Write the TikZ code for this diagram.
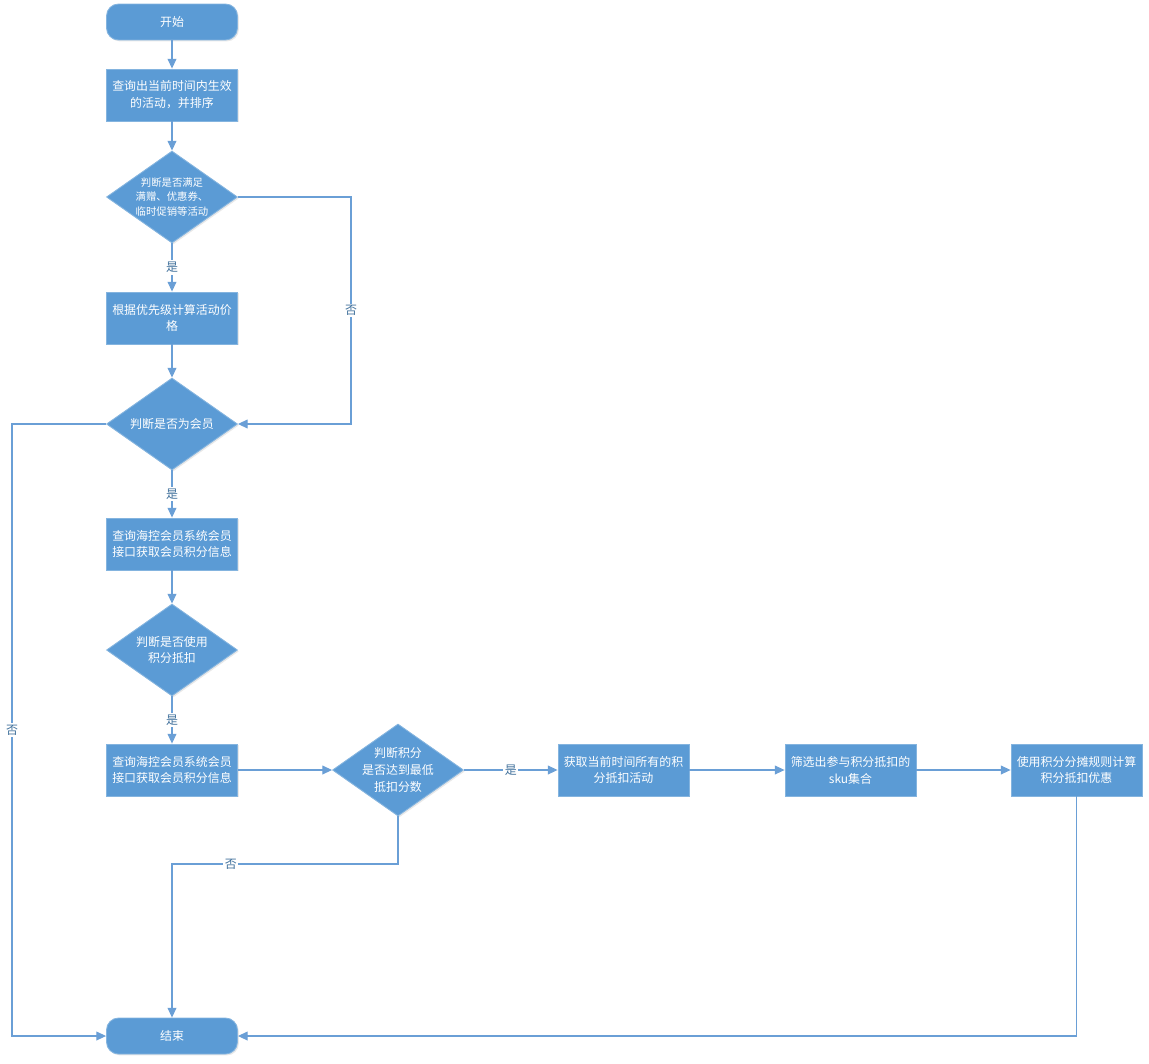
\documentclass[tikz,border=0pt]{standalone}
\usepackage{fontspec}
\setmainfont{Noto Sans CJK SC}
\usetikzlibrary{shapes.geometric,arrows.meta,shadows}
\definecolor{flowblue}{HTML}{5B9BD5}
\definecolor{edgeblue}{HTML}{6A9FD6}
\definecolor{labblue}{HTML}{41719C}
\begin{document}
\begin{tikzpicture}[x=0.02cm,y=-0.02cm,
	txt/.style={text=white,align=center,font=\fontsize{6.8pt}{9.6pt}\selectfont},
	base/.style={txt,fill=flowblue,draw=flowblue!75!white,line width=0.5pt,inner sep=0pt,
		drop shadow={opacity=0.18,shadow xshift=0.8pt,shadow yshift=-0.8pt}},
	term/.style={base,rectangle,rounded corners=0.24cm,minimum width=2.62cm,minimum height=0.72cm},
	proc/.style={base,rectangle,minimum width=2.62cm,minimum height=1.04cm},
	dia/.style={base,diamond,minimum width=2.62cm,minimum height=1.84cm},
	arr/.style={draw=edgeblue,line width=0.6pt,-{Triangle[width=5pt,length=5.5pt]}},
	lab/.style={fill=white,text=labblue,inner sep=1pt,font=\fontsize{6.8pt}{8pt}\selectfont}]
	\useasboundingbox (0,0) rectangle (1149,1064);
	\node[term] (start) at (172,22) {开始};
	\node[proc] (b1) at (172,95) {查询出当前时间内生效\\的活动，并排序};
	\node[dia] (d1) at (172,197) {};
	\node[txt,font=\fontsize{5.9pt}{8.2pt}\selectfont] at (d1) {判断是否满足\\满赠、优惠券、\\临时促销等活动};
	\node[proc] (b2) at (172,318) {根据优先级计算活动价\\格};
	\node[dia] (d2) at (172,424) {};
	\node[txt] at (d2) {判断是否为会员};
	\node[proc] (b3) at (172,544) {查询海控会员系统会员\\接口获取会员积分信息};
	\node[dia] (d3) at (172,650) {};
	\node[txt] at (d3) {判断是否使用\\积分抵扣};
	\node[proc] (b4) at (172,770) {查询海控会员系统会员\\接口获取会员积分信息};
	\node[dia] (d4) at (398,770) {};
	\node[txt] at (d4) {判断积分\\是否达到最低\\抵扣分数};
	\node[proc] (b5) at (623.5,770) {获取当前时间所有的积\\分抵扣活动};
	\node[proc] (b6) at (850.5,770) {筛选出参与积分抵扣的\\sku集合};
	\node[proc] (b7) at (1076.5,770) {使用积分分摊规则计算\\积分抵扣优惠};
	\node[term] (end) at (172,1036) {结束};
	\coordinate (r1) at (351,197);
	\coordinate (r2) at (351,424);
	\coordinate (l1) at (12,424);
	\coordinate (l2) at (12,1036);
	\coordinate (m1) at (398,864);
	\coordinate (m2) at (172,864);
	\draw[arr] (start) -- (b1);
	\draw[arr] (b1) -- (d1);
	\draw[arr] (d1) -- node[lab]{是} (b2);
	\draw[arr] (d1.east) -- (r1) -- node[lab]{否} (r2) -- (d2.east);
	\draw[arr] (b2) -- (d2);
	\draw[arr] (d2) -- node[lab]{是} (b3);
	\draw[arr] (d2.west) -- (l1) -- node[lab]{否} (l2) -- (end.west);
	\draw[arr] (b3) -- (d3);
	\draw[arr] (d3) -- node[lab]{是} (b4);
	\draw[arr] (b4) -- (d4);
	\draw[arr] (d4) -- node[lab]{是} (b5);
	\draw[arr] (b5) -- (b6);
	\draw[arr] (b6) -- (b7);
	\draw[arr] (d4.south) -- (m1) -- node[lab,pos=0.74]{否} (m2) -- (end.north);
	\draw[arr] (b7.south) |- (end.east);
\end{tikzpicture}
\end{document}
